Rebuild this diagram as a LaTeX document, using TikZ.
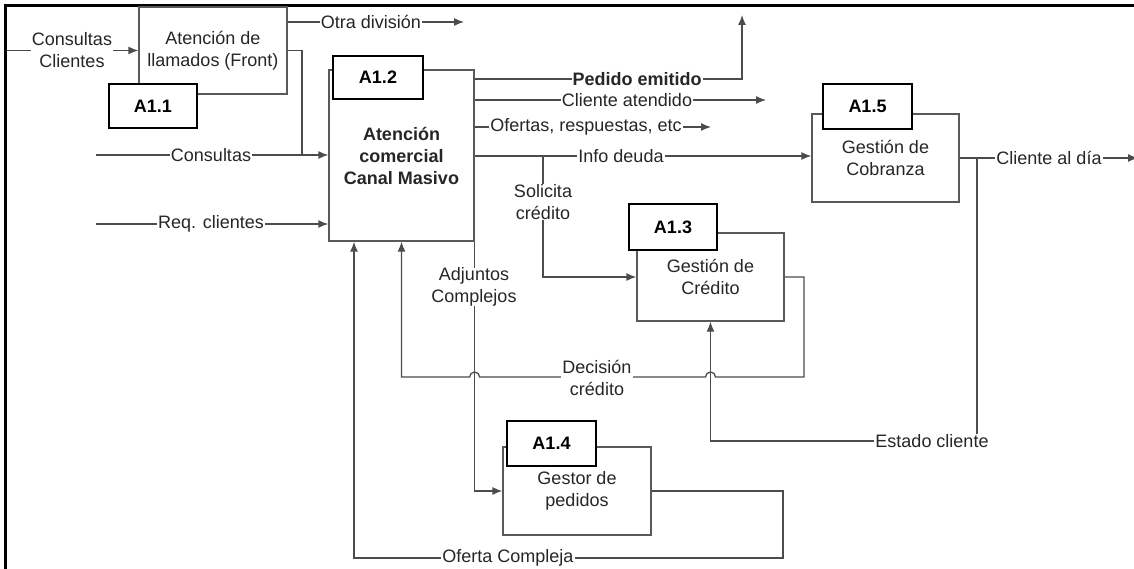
\documentclass[tikz,border=0pt]{standalone}
\usepackage{fontspec}
\setmainfont{Liberation Sans}
\usetikzlibrary{arrows.meta,calc}
\begin{document}
\begin{tikzpicture}[x=1pt,y=-1pt,
  txt/.style={text=black!85,font=\fontsize{18}{22}\selectfont},
  lbl/.style={txt,fill=white,inner xsep=1pt,inner ysep=0pt,align=center},
  plain/.style={draw=black!70,line width=1.3pt},
  conn/.style={plain,-{Latex[length=10pt,width=8pt]}},
  proc/.style={txt,draw=black!65,line width=1.3pt,fill=white,align=center,inner sep=0pt},
  tag/.style={draw=black,line width=2.2pt,fill=white,text=black,font=\bfseries\fontsize{18}{22}\selectfont,inner sep=0pt}
]
\useasboundingbox (0,0) rectangle (1134,569);
% frame
\draw[line width=3pt] (5.5,569) -- (5.5,5.5) -- (1134,5.5);

% process boxes and their tags
\node[proc,minimum width=148pt,minimum height=87pt] (A11) at (213,50.5) {Atención de\\llamados (Front)};
\node[tag,minimum width=88pt,minimum height=44pt] (T11) at (153,106) {A1.1\hspace{4pt}};
\node[proc,minimum width=145pt,minimum height=171pt,font=\bfseries\fontsize{18}{22}\selectfont] (A12) at (401.5,155.5) {Atención\\comercial\\Canal Masivo};
\node[tag,minimum width=90pt,minimum height=43pt] (T12) at (378,77.5) {A1.2\hspace{4pt}};
\node[proc,minimum width=147pt,minimum height=88pt] (A15) at (885.5,158) {Gestión de\\Cobranza};
\node[tag,minimum width=89pt,minimum height=45pt] (T15) at (867.5,106.5) {A1.5\hspace{4pt}};
\node[proc,minimum width=147pt,minimum height=88pt] (A13) at (710.5,277) {Gestión de\\Crédito};
\node[tag,minimum width=88pt,minimum height=46pt] (T13) at (673,227) {A1.3\hspace{4pt}};
\node[proc,minimum width=148pt,minimum height=88pt] (A14) at (577,491) {Gestor de\\pedidos};
\node[tag,minimum width=89pt,minimum height=45pt] (T14) at (551.5,443.5) {A1.4\hspace{4pt}};

% free ends and bends
\coordinate (inCC) at (7,50.5);
\coordinate (otraEnd) at (464,22);
\coordinate (j1) at (302,155);
\coordinate (consIn) at (96,155);
\coordinate (reqIn) at (96,224);
\coordinate (pedUp) at (742,79);
\coordinate (pedEnd) at (742,15);
\coordinate (caEnd) at (766,100);
\coordinate (ofEnd) at (711,127);
\coordinate (idB) at (543,156);
\coordinate (d1) at (804,377);
\coordinate (oc1) at (783,558);
\coordinate (oc2) at (354,558);
\coordinate (cadEnd) at (1138,158);
\coordinate (ec1) at (977,441);

% connectors
\draw[conn] (inCC) -- (A11.west);
\draw[conn] (A11.east |- otraEnd) -- (otraEnd);
\draw[plain] (A11.east) -| (j1);
\draw[conn] (consIn) -- (A12.west |- consIn);
\draw[conn] (reqIn) -- (A12.west |- reqIn);
\draw[conn] (A12.east |- pedUp) -- (pedUp) -- (pedEnd);
\draw[conn] (A12.east |- caEnd) -- (caEnd);
\draw[conn] (A12.east |- ofEnd) -- (ofEnd);
\draw[conn] (A12.east |- idB) -- (A15.west |- idB);
\draw[conn] (idB) |- (A13.west);
\draw[conn] (A13.east) -| (d1) -- ($(A13.south |- d1)+(5,0)$)
   arc[start angle=0,end angle=180,radius=5pt]
   -- ($(A12.south east |- d1)+(5,0)$)
   arc[start angle=0,end angle=180,radius=5pt]
   -- (A12.south |- d1) -- (A12.south);
\draw[conn] (A12.south east) |- (A14.west);
\draw[conn] (A14.east) -| (oc1) -- (oc2) -- (oc2 |- A12.south);
\draw[conn] (A15.east) -- (cadEnd);
\draw[conn] (ec1 |- A15.east) -- (ec1) -| (A13.south);

% labels
\node[lbl] (LCC) at (72,50) {Consultas\\Clientes};
\node[lbl] (LOD) at (371,22) {Otra división};
\node[lbl] (LCO) at (211,155) {Consultas};
\node[lbl] (LRC) at (211,224) {Req. clientes};
\node[lbl,font=\bfseries\fontsize{18}{22}\selectfont] (LPE) at (637,79) {Pedido emitido};
\node[lbl] (LCA) at (627,100) {Cliente atendido};
\node[lbl] (LOF) at (586,127) {Ofertas, respuestas, etc};
\node[lbl] (LID) at (621,156) {Info deuda};
\node[lbl] (LSC) at (543,202) {Solicita\\crédito};
\node[lbl] (LAC) at (474,287) {Adjuntos\\Complejos};
\node[lbl] (LDC) at (597,378) {Decisión\\crédito};
\node[lbl] (LOC) at (508,558) {Oferta Compleja};
\node[lbl] (LCD) at (1049,158) {Cliente al día};
\node[lbl] (LEC) at (932,441) {Estado cliente};
\end{tikzpicture}
\end{document}
